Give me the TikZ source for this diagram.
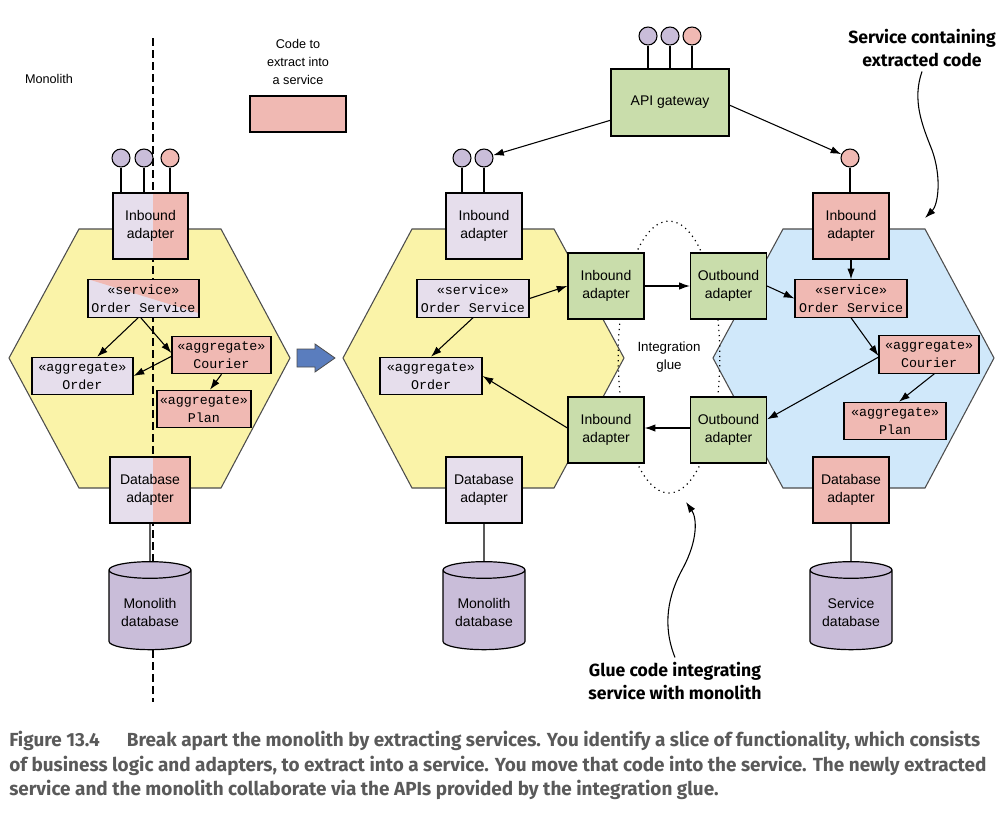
\documentclass[tikz,border=0pt]{standalone}
\usepackage{fontspec}
\setmainfont{Liberation Sans}
\setmonofont{Liberation Mono}
\newfontfamily\notefont{Fira Sans}
\newfontfamily\capfont{Fira Sans}
\usetikzlibrary{shapes.geometric, arrows.meta}

\definecolor{lavender}{HTML}{E6DEEC}
\definecolor{codepink}{HTML}{F0B9B3}
\definecolor{hexyellow}{HTML}{FAF3A8}
\definecolor{hexblue}{HTML}{D0E8FA}
\definecolor{gluegreen}{HTML}{C9DDAB}
\definecolor{dbpurple}{HTML}{C9BDD9}
\definecolor{movblue}{HTML}{5A7DBE}
\definecolor{capgray}{HTML}{5A5A5A}

\tikzset{
	box/.style={draw, line width=0.9pt, align=center, inner sep=0pt, font=\fontsize{10.5}{13.5}\selectfont},
	adapter/.style={box, minimum width=57pt, minimum height=49.5pt},
	cls/.style={box, font=\ttfamily\fontsize{10}{13.5}\selectfont, minimum height=28pt},
	port/.style={circle, draw, line width=0.8pt, minimum size=13.5pt, inner sep=0pt},
	wire/.style={line width=0.8pt},
	link/.style={wire, -{Latex[length=8pt, width=5.5pt]}},
	db/.style={cylinder, shape border rotate=90, aspect=0.25, draw, line width=0.9pt, fill=dbpurple,
		minimum width=61.5pt, minimum height=66pt, align=center, font=\fontsize{10.5}{13.5}\selectfont},
	hexa/.style={draw=black!70, line width=0.8pt},
	note/.style={align=center, font=\notefont\bfseries\fontsize{13.2}{17.3}\selectfont},
}

\begin{document}
\begin{tikzpicture}[x=0.75pt, y=-0.75pt]
	\useasboundingbox (0,0) rectangle (1003,818);

	% the three hexagons
	\filldraw[hexa, fill=hexyellow] (79,229) -- (221,229) -- (290,358) -- (221,488) -- (79,488) -- (9,358) -- cycle;
	\filldraw[hexa, fill=hexyellow] (412,229) -- (554,229) -- (624,358) -- (554,488) -- (412,488) -- (343,358) -- cycle;
	\filldraw[hexa, fill=hexblue] (783,229) -- (925,229) -- (994,358) -- (925,488) -- (783,488) -- (713,358) -- cycle;

	% cut line through the monolith
	\draw[line width=0.8pt, dash pattern=on 6pt off 3pt] (153,38) -- (153,702);

	% integration glue
	\node[ellipse, draw, line width=0.9pt, dash pattern=on 0.9pt off 3pt, minimum width=60pt, minimum height=204pt,
		align=center, font=\fontsize{10}{13}\selectfont] (glue) at (669,357) {Integration\\glue};

	% move arrow
	\filldraw[fill=movblue, draw=black!70, line width=0.6pt] (297,349) -- (315,349) -- (315,344) -- (335,358)
		-- (315,372) -- (315,367) -- (297,367) -- cycle;

	% legend
	\node[font=\fontsize{9.5}{13.5}\selectfont] (monoTxt) at (49,79) {Monolith};
	\node[align=center, font=\fontsize{9.5}{13.5}\selectfont] (codeTxt) at (298,62) {Code to\\extract into\\a service};
	\node[box, fill=codepink, minimum width=72pt, minimum height=27pt] (codeKey) at (298,114) {};

	% monolith before extraction
	\node[port, fill=dbpurple] (pL1) at (121,158) {};
	\node[port, fill=dbpurple] (pL2) at (144,158) {};
	\node[port, fill=codepink] (pL3) at (170,158) {};
	\node[adapter, fill=lavender, minimum width=56.25pt,
		path picture={\fill[codepink] ([xshift=1.9pt]path picture bounding box.north) rectangle (path picture bounding box.south east);}]
		(inbL) at (150.5,226) {Inbound\\adapter};
	\node[cls, fill=lavender, minimum width=83.25pt,
		path picture={\fill[codepink] ([xshift=-40pt]path picture bounding box.north) -- (path picture bounding box.north east)
			-- ([yshift=3pt]path picture bounding box.south east) -- cycle;}]
		(svcL) at (143.5,298.5) {«service»\\Order Service};
	\node[cls, fill=lavender, minimum width=75.75pt] (ordL) at (82.5,376) {«aggregate»\\Order};
	\node[cls, fill=codepink, minimum width=74.25pt] (courL) at (221.5,355) {«aggregate»\\Courier};
	\node[cls, fill=codepink, minimum width=70.5pt] (planL) at (204,409) {«aggregate»\\Plan};
	\node[adapter, fill=lavender, minimum width=60pt,
		path picture={\fill[codepink] ([xshift=2.25pt]path picture bounding box.north) rectangle (path picture bounding box.south east);}]
		(dbaL) at (150,490) {Database\\adapter};
	\node[db] (dbL) at (150,612) {Monolith\\database};

	\draw[wire] (pL1) -- (pL1 |- inbL.north);
	\draw[wire] (pL2) -- (pL2 |- inbL.north);
	\draw[wire] (pL3) -- (pL3 |- inbL.north);
	\draw[wire] (dbaL) -- (dbL);
	\draw[link] ([xshift=-4pt]svcL.south) -- ([xshift=11pt]ordL.north);
	\draw[link] ([xshift=-2pt]svcL.south) -- ([yshift=1.5pt]courL.west);
	\draw[link] ([yshift=-1pt]courL.west) -- (ordL.east);
	\draw[link] (courL.south) -- ([xshift=4.5pt]planL.north);

	% monolith after extraction
	\node[port, fill=dbpurple] (pM1) at (462,158) {};
	\node[port, fill=dbpurple] (pM2) at (484,158) {};
	\node[adapter, fill=lavender] (inbM) at (484,226) {Inbound\\adapter};
	\node[cls, fill=lavender, minimum width=84pt] (svcM) at (473,298.5) {«service»\\Order Service};
	\node[cls, fill=lavender, minimum width=76.5pt] (ordM) at (431,376) {«aggregate»\\Order};
	\node[adapter, fill=gluegreen] (gIn1) at (606,286) {Inbound\\adapter};
	\node[adapter, fill=gluegreen] (gIn2) at (606,430) {Inbound\\adapter};
	\node[adapter, fill=lavender] (dbaM) at (484,490) {Database\\adapter};
	\node[db] (dbM) at (484,612) {Monolith\\database};

	\draw[wire] (pM1) -- (pM1 |- inbM.north);
	\draw[wire] (pM2) -- (pM2 |- inbM.north);
	\draw[wire] (dbaM) -- (dbM);
	\draw[link] (svcM.east) -- (gIn1.west);
	\draw[link] (svcM.south) -- (ordM.north);
	\draw[link] ([yshift=1.5pt]gIn2.west) -- (ordM.east);

	% api gateway
	\node[port, fill=dbpurple] (pA1) at (648,36) {};
	\node[port, fill=dbpurple] (pA2) at (670,36) {};
	\node[port, fill=codepink] (pA3) at (692,36) {};
	\node[box, fill=gluegreen, minimum width=88.5pt, minimum height=50.25pt] (api) at (670,102.5) {API gateway};
	\draw[wire] (pA1) -- (pA1 |- api.north);
	\draw[wire] (pA2) -- (pA2 |- api.north);
	\draw[wire] (pA3) -- (pA3 |- api.north);

	% extracted service
	\node[port, fill=codepink] (pR) at (850,158) {};
	\node[adapter, fill=gluegreen] (gOut1) at (728.5,286) {Outbound\\adapter};
	\node[adapter, fill=gluegreen] (gOut2) at (728.5,430) {Outbound\\adapter};
	\node[adapter, fill=codepink] (inbR) at (851,226) {Inbound\\adapter};
	\node[cls, fill=codepink, minimum width=84pt] (svcR) at (851,298.5) {«service»\\Order Service};
	\node[cls, fill=codepink, minimum width=75pt] (courR) at (929,354.5) {«aggregate»\\Courier};
	\node[cls, fill=codepink, minimum width=76.5pt] (planR) at (895,421) {«aggregate»\\Plan};
	\node[adapter, fill=codepink] (dbaR) at (851,490) {Database\\adapter};
	\node[db] (dbR) at (851,612) {Service\\database};

	\draw[wire] (pR) -- (pR |- inbR.north);
	\draw[wire] (dbaR) -- (dbR);
	\draw[link] (api) -- (pM2);
	\draw[link] ([yshift=-2pt]api.east) -- (pR);
	\draw[link] (gIn1) -- (gOut1);
	\draw[link] ([yshift=1.5pt]gOut2.west) -- ([yshift=1.5pt]gIn2.east);
	\draw[link] (inbR.south -| svcR.north) -- (svcR.north);
	\draw[link] (gOut1.east) -- (svcR.west);
	\draw[link] (svcR.south) -- ([yshift=-1pt]courR.west);
	\draw[link] ([yshift=-2pt]courR.west) -- ([yshift=8pt]gOut2.east);
	\draw[link] ([xshift=4pt]courR.south) -- ([xshift=3pt]planR.north);

	% notes
	\node[note] (svcNote) at (922,48) {Service containing\\extracted code};
	\node[note] (glueNote) at (675,681) {Glue code integrating\\service with monolith};
	\draw[link] (svcNote.south) .. controls (912,100) and (922,125) .. (932,150)
		.. controls (942,178) and (938,205) .. (925,218);
	\draw[link] (glueNote.north) .. controls (662,625) and (668,595) .. (683,568)
		.. controls (698,540) and (697,518) .. (686,502);

	% caption
	\node[anchor=north west, align=left, inner sep=0pt, text=capgray, font=\capfont\bfseries\fontsize{14.2}{18.4}\selectfont]
		(caption) at (9,731) {Figure 13.4\hspace{1.2em} Break apart the monolith by extracting services. You identify a slice of functionality, which consists\\
		of business logic and adapters, to extract into a service. You move that code into the service. The newly extracted\\
		service and the monolith collaborate via the APIs provided by the integration glue.};
\end{tikzpicture}
\end{document}
